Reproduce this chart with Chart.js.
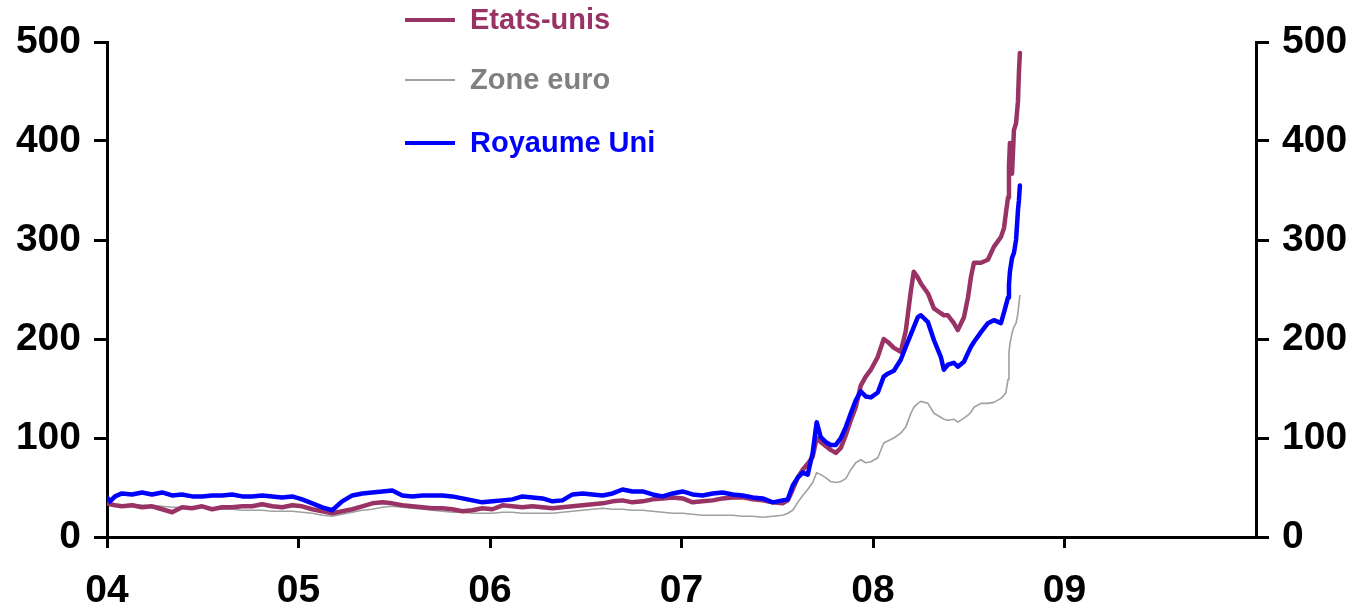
<!DOCTYPE html>
<html>
<head>
<meta charset="utf-8">
<script src="https://cdn.jsdelivr.net/npm/chart.js@4/dist/chart.umd.min.js"></script>
<style>
  html, body { margin: 0; padding: 0; background: #ffffff; }
  #wrap { position: relative; width: 1358px; height: 611px; }
</style>
</head>
<body>
<div id="wrap"><canvas id="c" width="1358" height="611"></canvas></div>
<script>
// Dates as decimal years
const dates = [
  2004.000, 2004.016, 2004.042, 2004.078, 2004.131, 2004.183, 2004.235, 2004.288, 2004.340, 2004.392,
  2004.444, 2004.497, 2004.549, 2004.601, 2004.653, 2004.706, 2004.758, 2004.810, 2004.863, 2004.915,
  2004.967, 2005.019, 2005.072, 2005.124, 2005.176, 2005.228, 2005.281, 2005.333, 2005.385, 2005.438,
  2005.490, 2005.542, 2005.594, 2005.647, 2005.699, 2005.751, 2005.803, 2005.856, 2005.908, 2005.960,
  2006.013, 2006.065, 2006.117, 2006.169, 2006.222, 2006.274, 2006.326, 2006.378, 2006.431, 2006.483,
  2006.535, 2006.588, 2006.640, 2006.692, 2006.744, 2006.797, 2006.849, 2006.901, 2006.953, 2007.006,
  2007.058, 2007.110, 2007.163, 2007.215, 2007.267, 2007.319, 2007.372, 2007.424, 2007.476, 2007.528,
  2007.555, 2007.581, 2007.607, 2007.633, 2007.659, 2007.685, 2007.706, 2007.727, 2007.753, 2007.779,
  2007.806, 2007.832, 2007.858, 2007.884, 2007.910, 2007.936, 2007.962, 2007.989, 2008.025, 2008.056,
  2008.077, 2008.109, 2008.145, 2008.171, 2008.198, 2008.213, 2008.234, 2008.250, 2008.287, 2008.318,
  2008.354, 2008.370, 2008.391, 2008.422, 2008.443, 2008.475, 2008.496, 2008.511, 2008.527, 2008.564,
  2008.600, 2008.631, 2008.668, 2008.684, 2008.694, 2008.705, 2008.710, 2008.715, 2008.726, 2008.736,
  2008.747, 2008.757, 2008.762, 2008.767
];

const etatsUnis = [
  34, 33, 32, 31, 32, 30, 31, 28, 25, 30,
  29, 31, 28, 30, 30, 31, 31, 33, 31, 30,
  32, 31, 28, 26, 24, 26, 28, 31, 34, 35,
  34, 32, 31, 30, 29, 29, 28, 26, 27, 29,
  28, 32, 31, 30, 31, 30, 29, 30, 31, 32,
  33, 34, 36, 37, 35, 36, 38, 39, 40, 39,
  35, 36, 37, 39, 40, 40, 38, 37, 35, 34,
  37, 48, 60, 68, 74, 81, 100, 96, 92, 88,
  85, 90, 103, 118, 131, 153, 162, 169, 182, 200,
  197, 191, 187, 208, 249, 268, 262, 256, 246, 231,
  226, 224, 224, 216, 209, 222, 242, 262, 277, 277,
  280, 293, 303, 312, 327, 343, 374, 398, 367, 411,
  418, 440, 469, 489
];

const zoneEuro = [
  34, 33, 33, 32, 33, 32, 32, 31, 30, 30,
  30, 30, 29, 28, 28, 27, 27, 27, 26, 26,
  26, 25, 24, 22, 21, 23, 25, 27, 28, 30,
  31, 30, 29, 28, 27, 26, 25, 25, 24, 24,
  24, 25, 25, 24, 24, 24, 24, 25, 26, 27,
  28, 29, 28, 28, 27, 27, 26, 25, 24, 24,
  23, 22, 22, 22, 22, 21, 21, 20, 21, 22,
  24, 27, 35, 42, 48, 55, 65, 63, 60, 56,
  55, 56, 59, 68, 75, 78, 75, 76, 80, 95,
  97, 100, 105, 111, 125, 131, 135, 137, 135, 125,
  121, 119, 118, 119, 116, 120, 123, 126, 131, 135,
  135, 136, 140, 143, 146, 159, 186, 195, 206, 212,
  216, 226, 236, 244
];

const royaumeUni = [
  40, 36, 41, 44, 43, 45, 43, 45, 42, 43,
  41, 41, 42, 42, 43, 41, 41, 42, 41, 40,
  41, 38, 34, 30, 27, 36, 42, 44, 45, 46,
  47, 42, 41, 42, 42, 42, 41, 39, 37, 35,
  36, 37, 38, 41, 40, 39, 36, 37, 43, 44,
  43, 42, 44, 48, 46, 46, 43, 41, 44, 46,
  43, 42, 44, 45, 43, 42, 40, 39, 35, 37,
  38, 52, 60, 65, 63, 85, 116, 101, 96, 93,
  93, 100, 111, 125, 138, 147, 142, 141, 146, 162,
  165, 168, 179, 192, 205, 212, 222, 224, 217, 199,
  182, 169, 174, 176, 172, 177, 186, 192, 197, 207,
  216, 219, 216, 227, 234, 242, 255, 268, 282, 287,
  300, 330, 340, 355
];

const seriesNames = ['Etats-unis', 'Zone euro', 'Royaume Uni'];
const yTicks = [0, 100, 200, 300, 400, 500];
const xTickYears = [2004, 2005, 2006, 2007, 2008, 2009];

const lineColors = ['#993366', '#a0a0a0', '#0000ff'];
const textColors = ['#993366', '#808080', '#0000ff'];
const lineWidths = [4.5, 1.6, 4.5];

function toPoints(vals) { return dates.map((d, i) => ({ x: d, y: vals[i] })); }

const legendPlugin = {
  id: 'customLegend',
  afterDraw(chart) {
    const ctx = chart.ctx;
    const rows = [20, 80, 143];
    ctx.save();
    chart.data.datasets.forEach((ds, i) => {
      const y = rows[i];
      ctx.strokeStyle = lineColors[i];
      ctx.lineWidth = i === 1 ? 2 : 4;
      ctx.beginPath();
      ctx.moveTo(405, y);
      ctx.lineTo(455, y);
      ctx.stroke();
      ctx.fillStyle = textColors[i];
      ctx.font = 'bold 29px "Liberation Sans", Arial, sans-serif';
      ctx.textBaseline = 'middle';
      ctx.textAlign = 'left';
      ctx.fillText(ds.label, 470, y + 1);
    });
    ctx.restore();
  }
};

const tickFont = { family: '"Liberation Sans", Arial, sans-serif', size: 39, weight: 'bold' };

const yScaleCommon = {
  type: 'linear',
  min: 0,
  max: 500,
  afterBuildTicks(scale) { scale.ticks = yTicks.map(v => ({ value: v })); },
  ticks: { color: '#000', font: tickFont, padding: 13 },
  grid: { drawOnChartArea: false, drawTicks: true, tickLength: 13, tickWidth: 3, tickColor: '#000', color: '#000', lineWidth: 3 },
  border: { display: true, color: '#000', width: 3 }
};

new Chart(document.getElementById('c'), {
  type: 'line',
  data: {
    datasets: [
      { label: seriesNames[0], data: toPoints(etatsUnis), borderColor: lineColors[0], borderWidth: lineWidths[0], order: 1, yAxisID: 'y' },
      { label: seriesNames[1], data: toPoints(zoneEuro), borderColor: lineColors[1], borderWidth: lineWidths[1], order: 2, yAxisID: 'y' },
      { label: seriesNames[2], data: toPoints(royaumeUni), borderColor: lineColors[2], borderWidth: lineWidths[2], order: 0, yAxisID: 'y' }
    ]
  },
  options: {
    responsive: false,
    animation: false,
    devicePixelRatio: 1,
    layout: { padding: { top: 42, left: 0, right: 0, bottom: 0 } },
    elements: {
      point: { radius: 0 },
      line: { tension: 0, borderJoinStyle: 'round', borderCapStyle: 'round', fill: false }
    },
    plugins: { legend: { display: false }, tooltip: { enabled: false } },
    scales: {
      x: {
        type: 'linear',
        min: 2004,
        max: 2010,
        afterBuildTicks(scale) { scale.ticks = xTickYears.map(v => ({ value: v })); },
        afterFit(scale) { scale.height = 74; },
        ticks: {
          color: '#000', font: tickFont, padding: 20, maxRotation: 0,
          callback: (v) => String(v).slice(2)
        },
        grid: { drawOnChartArea: false, drawTicks: true, tickLength: 11, tickWidth: 3, tickColor: '#000', color: '#000', lineWidth: 3 },
        border: { display: true, color: '#000', width: 3 }
      },
      y: Object.assign({}, yScaleCommon, { position: 'left', afterFit(scale) { scale.width = 107; } }),
      y2: Object.assign({}, yScaleCommon, { position: 'right', afterFit(scale) { scale.width = 102; } })
    }
  },
  plugins: [legendPlugin]
});
</script>
</body>
</html>
